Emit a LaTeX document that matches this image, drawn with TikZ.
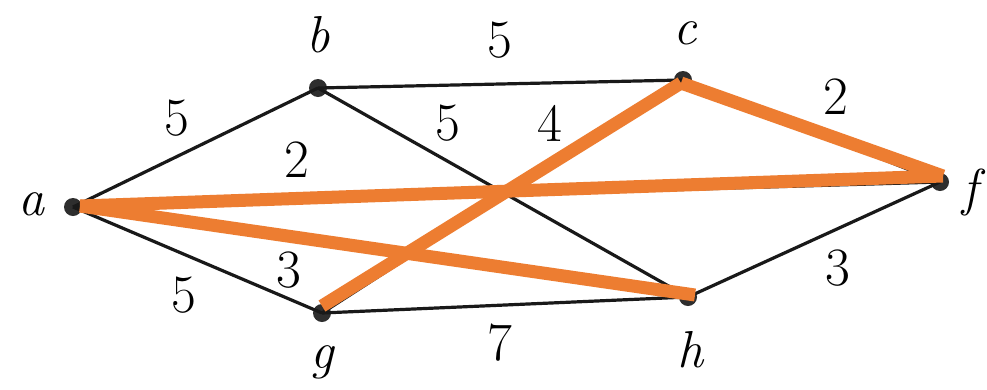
\documentclass[tikz,border=0pt]{standalone}
\usepackage{xcolor}
\definecolor{hl}{HTML}{ED7D31}
\definecolor{dot}{HTML}{2E2E2E}
\begin{document}
\begin{tikzpicture}[x=1pt,y=-1pt,
  vtx/.style={circle,fill=dot,inner sep=0pt,minimum size=18pt},
  edge/.style={line width=3.2pt,black!90},
  hledge/.style={line width=13pt,hl},
  lbl/.style={font=\fontsize{54}{60}\selectfont},
  vlbl/.style={font=\fontsize{52}{60}\selectfont\itshape}]
\useasboundingbox (0,0) rectangle (987,389);
\fill[white] (0,0) rectangle (987,389);
% vertices
\node[vtx] (a) at (73,207) {};
\node[vtx] (b) at (318,88) {};
\node[vtx] (c) at (683,80) {};
\node[vtx] (f) at (940,182) {};
\node[vtx] (g) at (322,313) {};
\node[vtx] (h) at (688,297) {};
% vertex labels
\node[vlbl] (la) at (31,204) {a};
\node[vlbl] (lb) at (318,35) {b};
\node[vlbl] (lc) at (685,33) {c};
\node[vlbl,anchor=base west,inner sep=0pt] (lf) at (962,205) {f};
\node[vlbl] (lg) at (322,362) {g};
\node[vlbl] (lh) at (690,350) {h};
% black edges
\draw[edge] (a.center) -- (b.center);
\draw[edge] (b.center) -- (c.center);
\draw[edge] (b.center) -- (h.center);
\draw[edge] (a.center) -- (g.center);
\draw[edge] (g.center) -- (h.center);
\draw[edge] (h.center) -- (f.center);
\draw[edge] (a.center) -- (f.center);
\draw[edge] (a.center) -- (h.center);
\draw[edge] (g.center) -- (c.center);
\draw[edge] (c.center) -- (f.center);
% edge weights
\node[lbl] (w1) at (177,118) {5};
\node[lbl] (w2) at (500,40) {5};
\node[lbl] (w3) at (448,123) {5};
\node[lbl] (w4) at (550,123) {4};
\node[lbl] (w5) at (297,160) {2};
\node[lbl] (w6) at (836,97) {2};
\node[lbl] (w7) at (289,270) {3};
\node[lbl] (w8) at (184,295) {5};
\node[lbl] (w9) at (500,343) {7};
\node[lbl] (w10) at (838,268) {3};
% highlighted edges
\coordinate (oa) at (80,206);
\coordinate (of) at (943,176);
\coordinate (oc) at (681,83);
\coordinate (og) at (322,306);
\coordinate (oh) at (695,295);
\draw[hledge] (oa) -- (of);
\draw[hledge] (oa) -- (oh);
\draw[hledge] (og) -- (oc);
\draw[hledge] (oc) -- (of);
\end{tikzpicture}
\end{document}
